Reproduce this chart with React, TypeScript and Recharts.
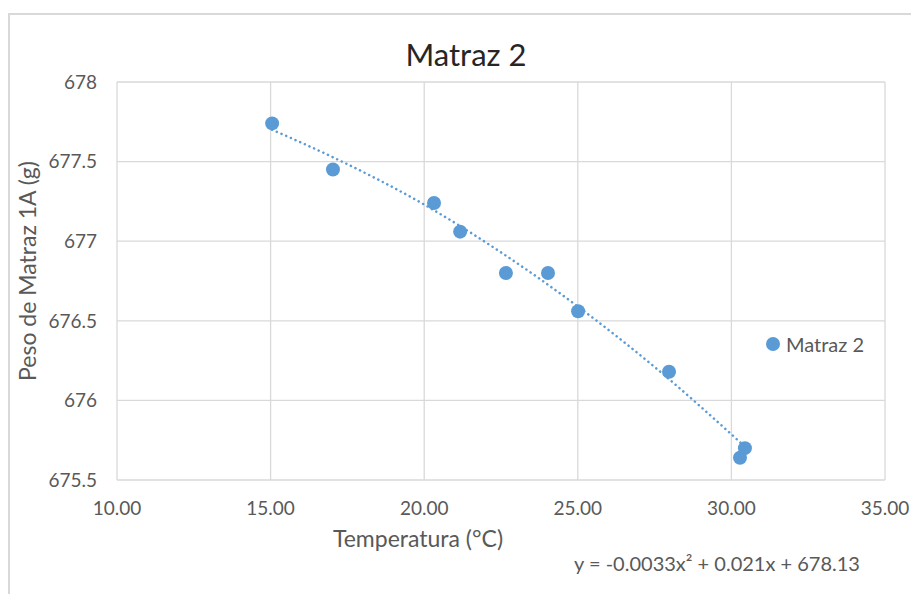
import React from 'react';
import {
  ComposedChart,
  Scatter,
  Line,
  XAxis,
  YAxis,
  CartesianGrid,
  Label,
} from 'recharts';

// Measured temperature (°C) and weight (g)
const temperatura = [15.05, 17.03, 20.32, 21.17, 22.66, 24.03, 25.01, 27.97, 30.44, 30.28];
const peso = [677.74, 677.45, 677.24, 677.06, 676.8, 676.8, 676.56, 676.18, 675.7, 675.64];

// polynomial trendline
const trendX = [15.05, 17, 20, 22.5, 25, 27.5, 30.44];
const trendY = [677.7, 677.53, 677.23, 676.93, 676.59, 676.21, 675.71];

const xTicks = [10, 15, 20, 25, 30, 35];
const yTicks = [675.5, 676, 676.5, 677, 677.5, 678];

const seriesName = 'Matraz 2';
const equation = 'y = -0.0033x² + 0.021x + 678.13';

const puntos = temperatura.map((t, i) => ({ x: t, y: peso[i] }));
const tendencia = trendX.map((t, i) => ({ x: t, y: trendY[i] }));

const FONT = 'Lato, "Open Sans", sans-serif';
const BLUE = '#5B9BD5';
const GREY = '#595959';

const Dot = (props: any) => <circle cx={props.cx} cy={props.cy} r={7} fill={BLUE} />;

export default function App() {
  return (
    <div style={{ position: 'absolute', left: 0, top: 0, width: 911, height: 594, overflow: 'hidden', background: '#fff' }}>
      <div
        style={{
          position: 'absolute',
          left: 8,
          top: 13,
          width: 940,
          height: 640,
          border: '2px solid #d9d9d9',
        }}
      />
      <div
        style={{
          position: 'absolute',
          left: 0,
          top: 35,
          width: 932,
          textAlign: 'center',
          fontFamily: FONT,
          fontSize: 31,
          lineHeight: '38px',
          color: '#262626',
        }}
      >
        {seriesName}
      </div>
      <ComposedChart
        width={911}
        height={594}
        margin={{ top: 82, right: 26, bottom: 0, left: 0 }}
        style={{ position: 'absolute', left: 0, top: 0 }}
      >
        <CartesianGrid stroke="#d9d9d9" strokeWidth={1.3} />
        <XAxis
          type="number"
          dataKey="x"
          domain={[10, 35]}
          ticks={xTicks}
          tickFormatter={(v: number) => v.toFixed(2)}
          height={114}
          axisLine={false}
          tickLine={false}
          tickSize={0}
          tickMargin={22}
          tick={{ fill: GREY, fontSize: 19, fontFamily: FONT }}
        >
          <Label
            content={({ viewBox }: any) => (
              <text
                x={viewBox.x + 301}
                y={viewBox.y + 67}
                textAnchor="middle"
                fill={GREY}
                fontSize={23}
                fontFamily={FONT}
              >
                Temperatura (°C)
              </text>
            )}
          />
          <Label
            content={({ viewBox }: any) => (
              <text
                x={viewBox.x + 600}
                y={viewBox.y + 91}
                textAnchor="middle"
                fill={GREY}
                fontSize={20}
                fontFamily={FONT}
              >
                {equation}
              </text>
            )}
          />
        </XAxis>
        <YAxis
          type="number"
          dataKey="y"
          domain={[675.5, 678]}
          ticks={yTicks}
          width={117}
          axisLine={false}
          tickLine={false}
          tickSize={0}
          tickMargin={20}
          tick={{ fill: GREY, fontSize: 19, fontFamily: FONT }}
        >
          <Label
            content={({ viewBox }: any) => {
              const cx = viewBox.x + 27;
              const cy = viewBox.y + viewBox.height / 2 - 10;
              return (
                <text
                  x={cx}
                  y={cy}
                  transform={`rotate(-90 ${cx} ${cy})`}
                  textAnchor="middle"
                  dominantBaseline="central"
                  fill={GREY}
                  fontSize={23}
                  fontFamily={FONT}
                >
                  Peso de Matraz 1A (g)
                </text>
              );
            }}
          />
        </YAxis>
        <Line
          data={tendencia}
          dataKey="y"
          type="monotone"
          stroke={BLUE}
          strokeWidth={2.5}
          strokeDasharray="0.1 5"
          strokeLinecap="round"
          dot={false}
          activeDot={false}
          legendType="none"
          isAnimationActive={false}
        />
        <Scatter
          name={seriesName}
          data={puntos}
          fill={BLUE}
          shape={Dot}
          isAnimationActive={false}
        />
      </ComposedChart>
      <div
        style={{
          position: 'absolute',
          left: 765,
          top: 332,
          display: 'flex',
          alignItems: 'center',
          fontFamily: FONT,
          fontSize: 20,
          color: GREY,
        }}
      >
        <svg width={16} height={16} style={{ marginRight: 5 }}>
          <circle cx={8} cy={8} r={7} fill={BLUE} />
        </svg>
        {seriesName}
      </div>
    </div>
  );
}
